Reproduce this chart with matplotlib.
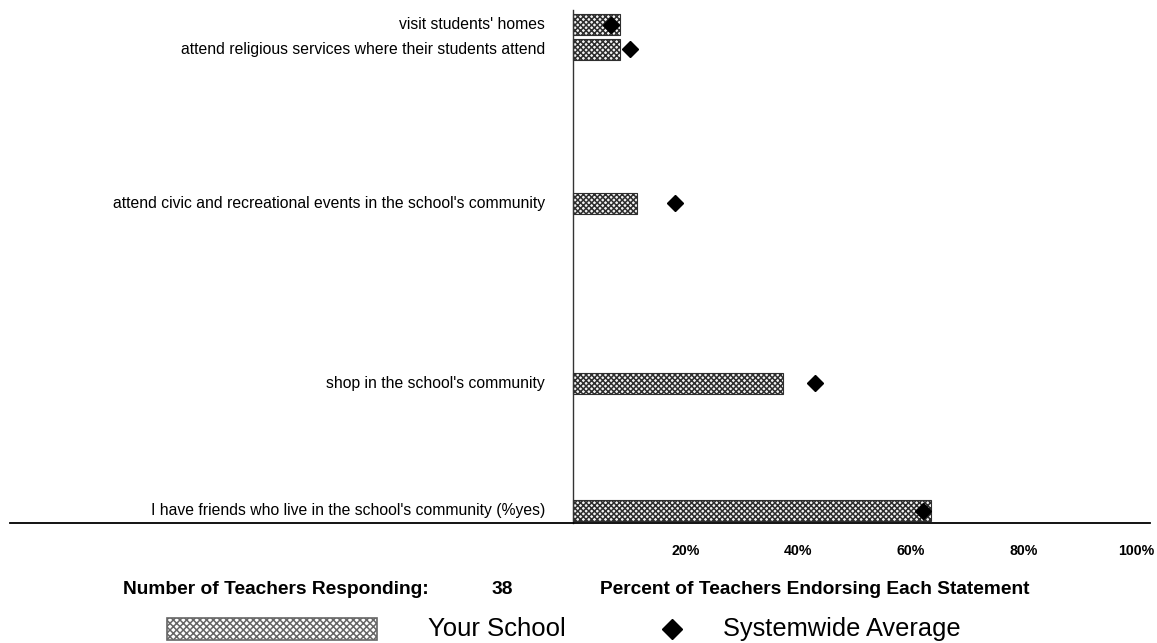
import matplotlib.pyplot as plt
from matplotlib.patches import Rectangle
from matplotlib.lines import Line2D

# ── Data ─────────────────────────────────────────────────────
statements = [
    "visit students' homes",
    "attend religious services where their students attend",
    "attend civic and recreational events in the school's community",
    "shop in the school's community",
    "I have friends who live in the school's community (%yes)",
]
your_school = [8.4, 8.4, 11.4, 37.3, 63.6]
systemwide  = [6.8, 10.1, 18.1, 43.0, 62.2]
tick_vals   = [20, 40, 60, 80, 100]
tick_labels = ['20%', '40%', '60%', '80%', '100%']
n_teachers  = 38

# row centres (pixel-like units, top = 10, axis line = 523)
row_pos = [24.5, 49, 203, 383, 510.5]

W, H = 1157, 643
plt.rcParams['hatch.linewidth'] = 1.1
FONT = ['Liberation Sans', 'DejaVu Sans']

fig = plt.figure(figsize=(W / 100, H / 100), dpi=100)
ax = fig.add_axes([10 / W, 1 - 523 / H, 1140 / W, 513 / H])

ax.barh(row_pos, your_school, height=21, color='#f4f4f4', edgecolor='#2e2e2e',
        hatch='xxxxxx', linewidth=0.8)
ax.plot(systemwide, row_pos, linestyle='none', marker='D', markersize=8.5,
        color='black')

for y, txt in zip(row_pos, statements):
    ax.text(-5, y, txt, ha='right', va='center', fontsize=11.3, family=FONT)

ax.set_xlim(-100, 102.5)
ax.set_ylim(523, 10)
ax.spines['top'].set_visible(False)
ax.spines['right'].set_visible(False)
ax.spines['left'].set_position(('data', 0))
ax.spines['left'].set_linewidth(1)
ax.spines['left'].set_color('#333333')
ax.spines['bottom'].set_linewidth(1.3)
ax.set_yticks([])
ax.set_xticks(tick_vals)
ax.set_xticklabels(tick_labels, fontsize=10.2, fontweight='bold', family=FONT)
ax.tick_params(axis='x', length=0, pad=15)

# ── Footer ───────────────────────────────────────────────────
def ftext(x, y, s, **kw):
    fig.text(x / W, 1 - y / H, s, va='center', **kw)

ftext(123, 589, 'Number of Teachers Responding:', fontsize=13.8,
      fontweight='bold', family=FONT)
ftext(502, 589, str(n_teachers), fontsize=13.8, fontweight='bold',
      family=FONT, ha='center')
ftext(600, 589, 'Percent of Teachers Endorsing Each Statement', fontsize=13.8,
      fontweight='bold', family=FONT)

fig.add_artist(Rectangle((167 / W, 1 - 640 / H), 210 / W, 22 / H,
                         transform=fig.transFigure, facecolor='white',
                         edgecolor='#666666', hatch='xxxxx', linewidth=1.2))
ftext(428, 629, 'Your School', fontsize=18.5, family=FONT)
fig.add_artist(Line2D([672 / W], [1 - 629 / H], marker='D', markersize=10,
                      color='black', transform=fig.transFigure))
ftext(723, 629, 'Systemwide Average', fontsize=18.3, family=FONT)

fig.savefig('out.png', dpi=100)
